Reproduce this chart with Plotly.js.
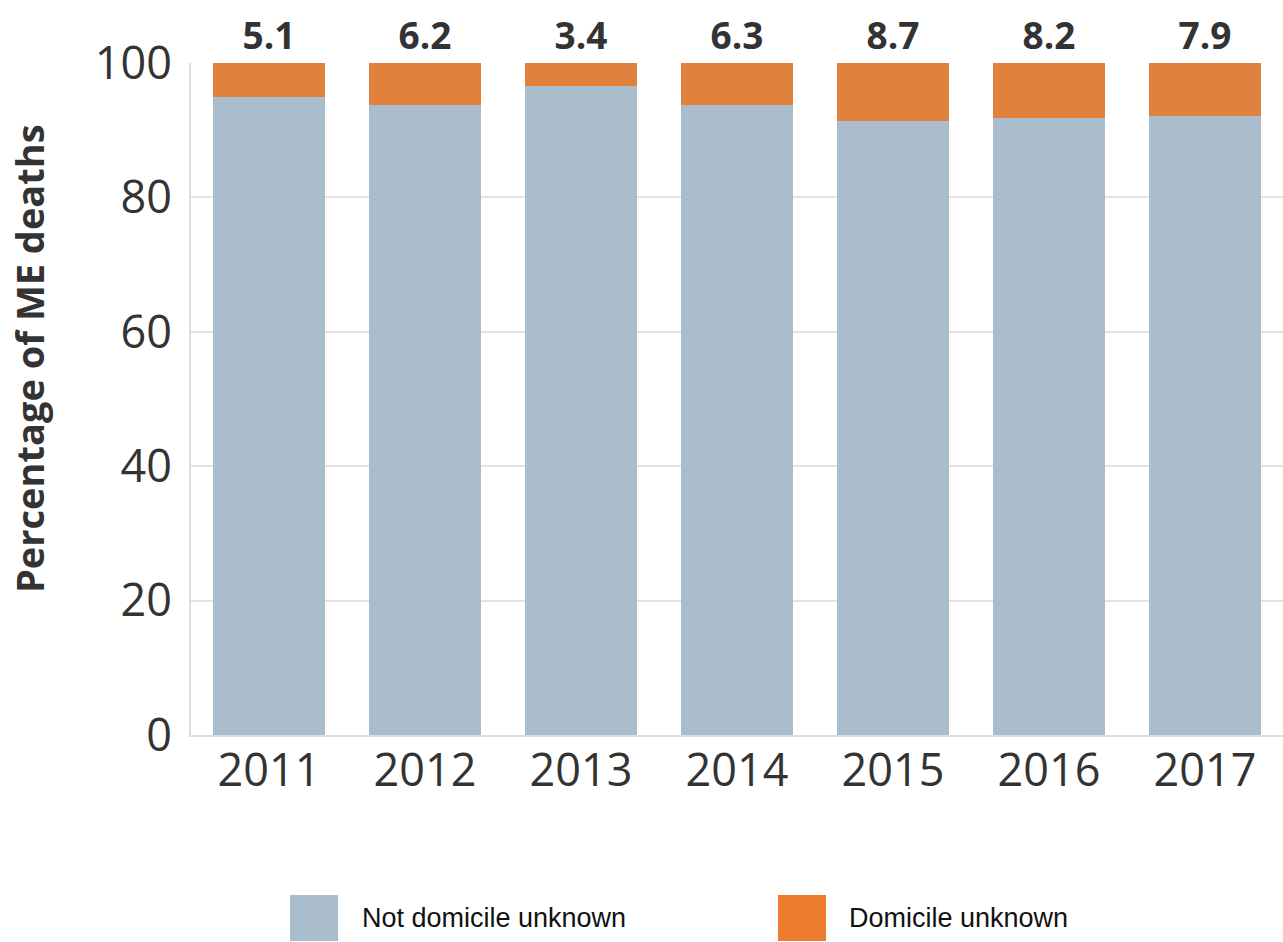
<!DOCTYPE html>
<html>
<head>
<meta charset="utf-8">
<script src="https://cdn.plot.ly/plotly-3.0.1.min.js"></script>
<style>html,body{margin:0;padding:0;background:#fff;}#chart{width:1283px;height:942px;}</style>
</head>
<body>
<div id="chart"></div>
<script>
const years = ["2011", "2012", "2013", "2014", "2015", "2016", "2017"];
const domicileUnknown = [5.1, 6.2, 3.4, 6.3, 8.7, 8.2, 7.9];
const notDomicileUnknown = [94.9, 93.8, 96.6, 93.7, 91.3, 91.8, 92.1];
const seriesNames = ["Not domicile unknown", "Domicile unknown"];
const yTicks = [0, 20, 40, 60, 80, 100];

const blue = "#aabdcc";
const orange = "#e0823d";
const legendOrange = "#ec7c30";

const traces = [
  {type: "bar", x: years, y: notDomicileUnknown, name: seriesNames[0],
   marker: {color: blue}, hoverinfo: "skip", showlegend: false},
  {type: "bar", x: years, y: domicileUnknown, name: seriesNames[1],
   marker: {color: orange}, hoverinfo: "skip", showlegend: false,
   text: domicileUnknown.map(v => v.toFixed(1)),
   texttemplate: "<b>%{text}</b>",
   textposition: "outside", cliponaxis: false, constraintext: "none",
   outsidetextfont: {family: "Open Sans", size: 37, color: "#333333"}}
];

const annotations = [];
annotations.push({
  x: (29 - 191) / 1092, y: (735 - 359) / 672, xref: "paper", yref: "paper", textangle: -90,
  xanchor: "center", yanchor: "middle", showarrow: false,
  text: "<b>Percentage of ME deaths</b>",
  font: {family: "Open Sans", size: 38, color: "#333333"}
});

// legend
const legendX = [360, 847];
const swatchX = [290, 778];
const legendColors = [blue, legendOrange];
const shapes = [];
seriesNames.forEach((n, i) => {
  shapes.push({type: "rect", xref: "paper", yref: "paper",
    x0: (swatchX[i] - 191) / 1092, x1: (swatchX[i] + 48 - 191) / 1092,
    y0: (735 - 941) / 672, y1: (735 - 895) / 672,
    fillcolor: legendColors[i], line: {width: 0}});
  annotations.push({xref: "paper", yref: "paper",
    x: (legendX[i] - 191) / 1092, y: (735 - 918) / 672,
    xanchor: "left", yanchor: "middle", showarrow: false, text: n,
    font: {family: "Liberation Sans", size: 27, color: "#111111"}});
});

const layout = {
  width: 1283, height: 942,
  margin: {l: 191, r: 0, t: 63, b: 207},
  paper_bgcolor: "#ffffff", plot_bgcolor: "#ffffff",
  barmode: "stack", bargap: 0.276,
  showlegend: false,
  xaxis: {type: "category", range: [-0.5, 6.5], showline: true, linecolor: "#dddddd",
    linewidth: 2, ticks: "", showgrid: false, ticklabelstandoff: -5,
    tickfont: {family: "Open Sans", size: 45, color: "#333333"}},
  yaxis: {range: [0, 100], tickvals: yTicks, ticktext: yTicks.map(String),
    showline: true, linecolor: "#dddddd", linewidth: 2, showgrid: true,
    gridcolor: "#e2e2e2", gridwidth: 2, zeroline: false, ticks: "",
    ticklabelstandoff: 8,
    tickfont: {family: "Open Sans", size: 45, color: "#333333"}},
  annotations: annotations,
  shapes: shapes
};

Plotly.newPlot("chart", traces, layout, {displayModeBar: false, staticPlot: true});
</script>
</body>
</html>
